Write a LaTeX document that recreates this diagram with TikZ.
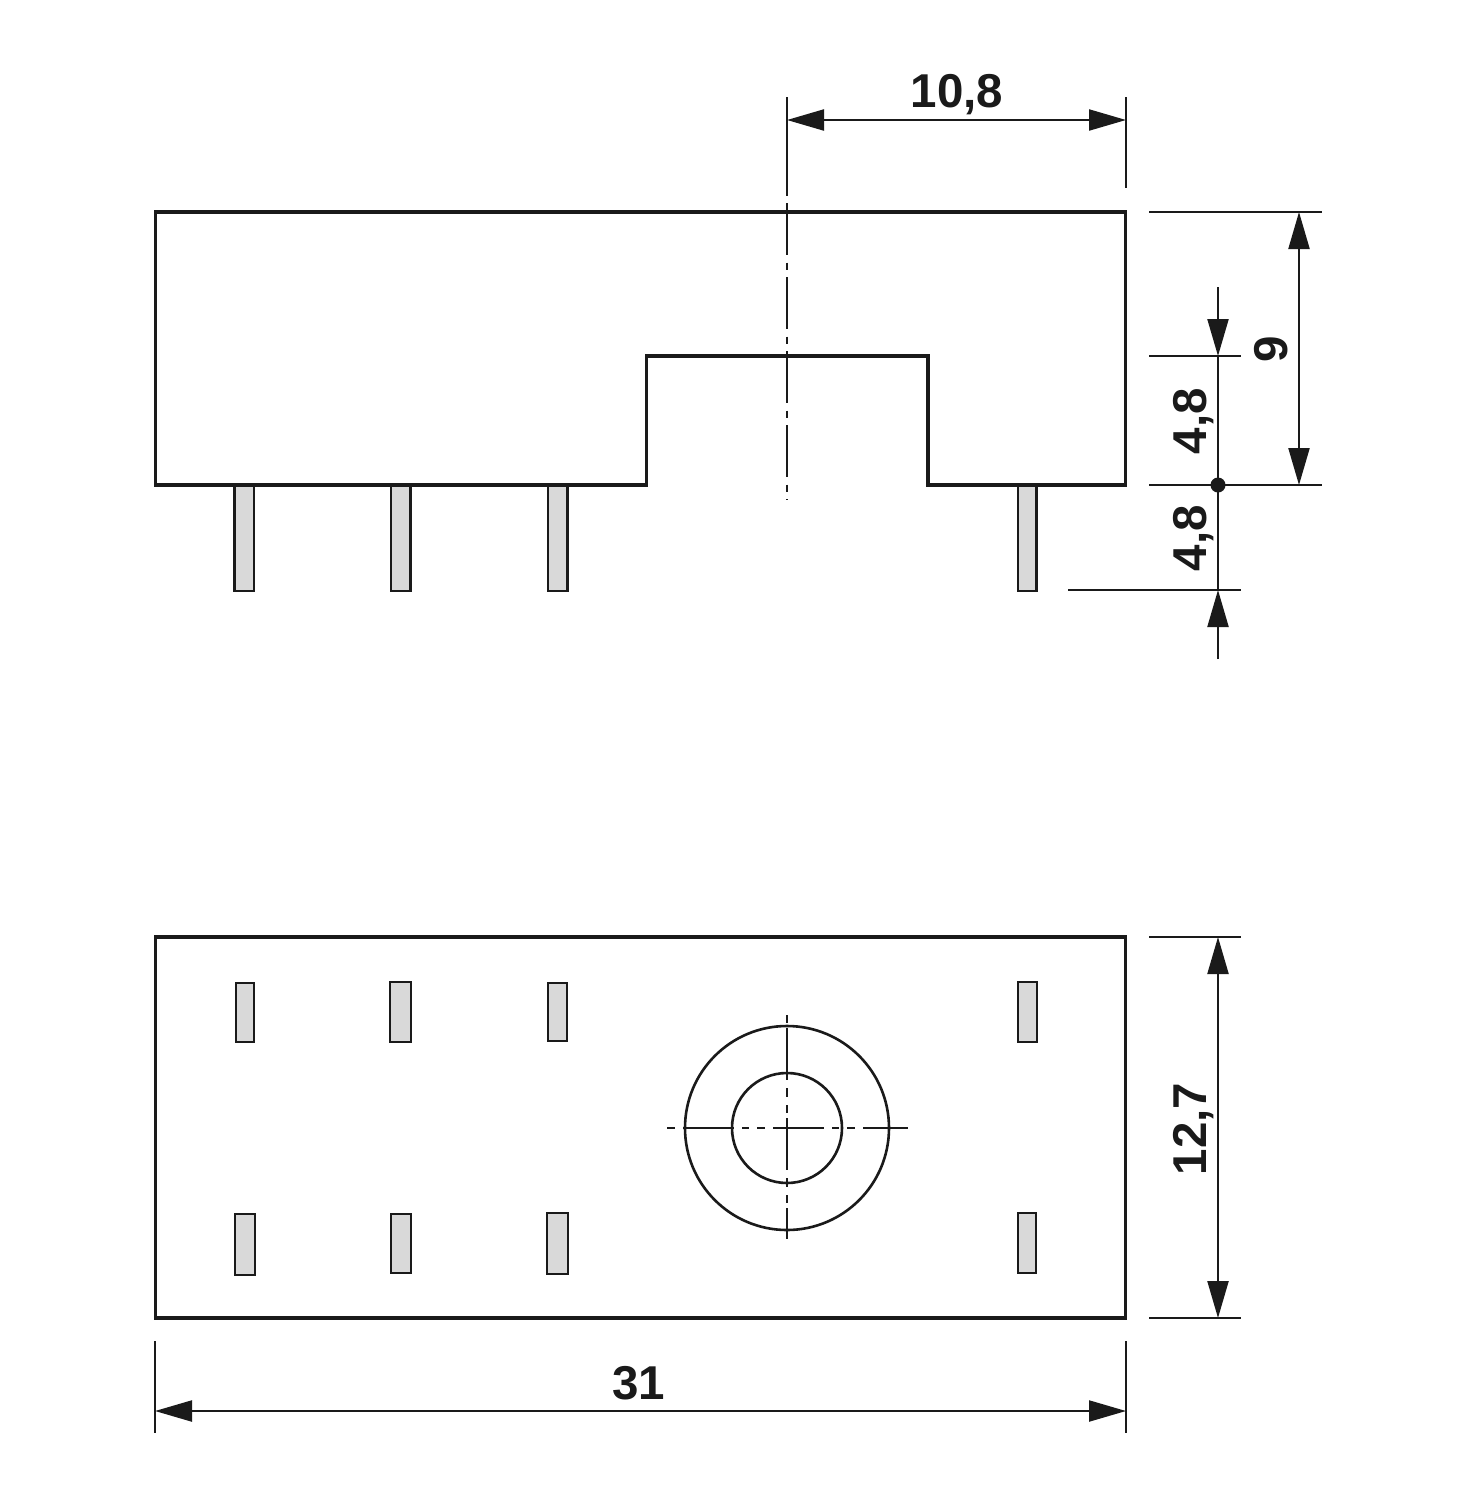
\documentclass[tikz,border=0pt]{standalone}
\usepackage{fontspec}
\setmainfont{Liberation Sans}
\usetikzlibrary{arrows.meta}
\definecolor{ink}{HTML}{1A1A1A}
\definecolor{pinfill}{HTML}{D9D9D9}
\tikzset{
  outline/.style={draw=ink,line width=3.2pt,line join=miter},
  thinline/.style={draw=ink,line width=2.2pt},
  circ/.style={draw=ink,line width=2.6pt},
  pin/.style={draw=ink,fill=pinfill,line width=2.8pt,line join=miter},
  centerline/.style={draw=ink,line width=2.2pt,dash pattern=on 52pt off 7.5pt on 7pt off 7.5pt},
  tipe/.style={-{Triangle[length=37pt,width=21pt,fill=ink]}},
  tipb/.style={{Triangle[length=37pt,width=21pt,fill=ink]}-{Triangle[length=37pt,width=21pt,fill=ink]}},
  dimtext/.style={font=\fontsize{47.5}{47.5}\selectfont\bfseries,text=ink,inner sep=0pt}
}
\begin{document}
\begin{tikzpicture}[x=1pt,y=-1pt]
\useasboundingbox (0,0) rectangle (1477,1500);
\fill[white] (0,0) rectangle (1477,1500);
% side view pins
\draw[pin] (234.5,485) rectangle (254,591);
\draw[pin] (391,485) rectangle (410.5,591);
\draw[pin] (548,485) rectangle (567.5,591);
\draw[pin] (1018,485) rectangle (1036.5,591);
% side view body
\draw[outline] (155.3,212) -- (1125.7,212) -- (1125.7,485) -- (928,485) -- (928,356) -- (646.5,356) -- (646.5,485) -- (155.3,485) -- cycle;
% side view centre line
\draw[thinline] (787,97) -- (787,196);
\draw[centerline] (787,203) -- (787,500);
% bottom view
\draw[outline] (155.3,937) rectangle (1125.7,1318);
\draw[pin,line width=2pt] (235.5,982.5) rectangle (254,1041.5);
\draw[pin,line width=2pt] (390,982) rectangle (411,1041.5);
\draw[pin,line width=2pt] (547.5,983) rectangle (567,1041);
\draw[pin,line width=2pt] (1018,981.5) rectangle (1037,1042);
\draw[pin,line width=2pt] (235,1213.5) rectangle (255,1275);
\draw[pin,line width=2pt] (391,1213.5) rectangle (410.5,1273);
\draw[pin,line width=2pt] (547,1213) rectangle (567.5,1274);
\draw[pin,line width=2pt] (1018,1213) rectangle (1036,1273);
\draw[circ] (787,1128) circle (102);
\draw[circ] (787,1128) circle (55);
\draw[thinline,dash pattern=on 8pt off 8pt on 51pt off 8pt on 7pt off 8pt] (667,1128) -- (908,1128);
\draw[thinline,dash pattern=on 8pt off 5pt on 52pt off 8pt on 9pt off 8pt] (787,1015) -- (787,1239);
% dimension 10,8
\draw[thinline] (1126,97) -- (1126,188);
\draw[thinline,tipb] (787,120) -- (1126,120);
\node[dimtext] (d108) at (957,95) {10,8};
% right extension lines
\draw[thinline] (1149,212) -- (1322,212);
\draw[thinline] (1149,356) -- (1241,356);
\draw[thinline] (1149,485) -- (1322,485);
\draw[thinline] (1068,590) -- (1241,590);
\draw[thinline,tipb] (1299,212) -- (1299,485);
\node[dimtext,rotate=90] (d9) at (1271,349) {9};
\draw[thinline,tipe] (1218,287) -- (1218,356);
\draw[thinline] (1218,356) -- (1218,590);
\draw[thinline,tipe] (1218,659) -- (1218,590);
\fill[ink] (1218,485) circle (7.5);
\node[dimtext,rotate=90] (d48a) at (1194,421) {4,8};
\node[dimtext,rotate=90] (d48b) at (1194,538) {4,8};
% dimension 12,7
\draw[thinline] (1149,937) -- (1241,937);
\draw[thinline] (1149,1318) -- (1241,1318);
\draw[thinline,tipb] (1218,937) -- (1218,1318);
\node[dimtext,rotate=90] (d127) at (1194,1129) {12,7};
% dimension 31
\draw[thinline] (155,1341) -- (155,1433);
\draw[thinline] (1126,1341) -- (1126,1433);
\draw[thinline,tipb] (155,1411) -- (1126,1411);
\node[dimtext] (d31) at (638.5,1383) {31};
\end{tikzpicture}
\end{document}
